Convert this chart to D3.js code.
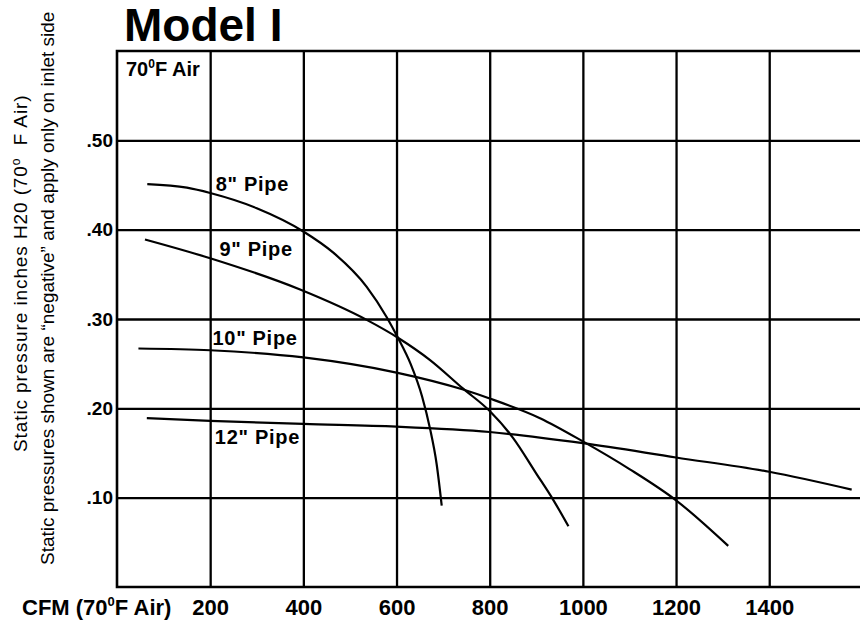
<!DOCTYPE html>
<html>
<head>
<meta charset="utf-8">
<script src="https://cdn.jsdelivr.net/npm/d3@7"></script>
<style>
  html, body { margin: 0; padding: 0; background: #fff; }
  svg { display: block; font-family: "Liberation Sans", Arial, Helvetica, sans-serif; }
</style>
</head>
<body>
<svg id="chart" width="860" height="620"></svg>
<script>
// ---- data ----
const xTicks = [200, 400, 600, 800, 1000, 1200, 1400];
const yTicks = [0.10, 0.20, 0.30, 0.40, 0.50];
const yTickLabels = [".10", ".20", ".30", ".40", ".50"];

const pipeNames = ['8" Pipe', '9" Pipe', '10" Pipe', '12" Pipe'];

const cfm8 = [65, 150, 200, 300, 400, 465, 536, 579, 603, 630, 655, 672, 686, 697];
const sp8  = [0.451, 0.447, 0.441, 0.424, 0.398, 0.374, 0.336, 0.302, 0.279, 0.250, 0.213, 0.177, 0.138, 0.091];

const cfm9 = [60, 200, 393, 536, 603, 672, 743, 800, 850, 900, 937, 969];
const sp9  = [0.389, 0.368, 0.333, 0.299, 0.279, 0.254, 0.222, 0.197, 0.167, 0.127, 0.097, 0.068];

const cfm10 = [46, 200, 400, 600, 743, 800, 908, 1000, 1100, 1200, 1312];
const sp10  = [0.267, 0.265, 0.257, 0.240, 0.221, 0.211, 0.189, 0.163, 0.132, 0.097, 0.046];

const cfm12 = [64, 200, 400, 600, 800, 1000, 1200, 1400, 1577];
const sp12  = [0.189, 0.186, 0.1825, 0.1795, 0.1735, 0.161, 0.145, 0.129, 0.109];

// label anchor points (data coords) for each pipe label
const labelCfm = [212, 220, 205, 210];
const labelSp  = [0.443, 0.371, 0.271, 0.160];

const series = [
  {cfm: cfm8, sp: sp8},
  {cfm: cfm9, sp: sp9},
  {cfm: cfm10, sp: sp10},
  {cfm: cfm12, sp: sp12}
];

// ---- scales ----
const x = d3.scaleLinear().domain([0, 1600]).range([117, 862.4]);
const y = d3.scaleLinear().domain([0, 0.6]).range([587, 51]);

const svg = d3.select("#chart");
const FONT = '"Liberation Sans", Arial, sans-serif';

// title
svg.append("text")
  .attr("x", 124).attr("y", 41)
  .attr("font-size", 46).attr("font-weight", "bold")
  .text("Model I");

// gridlines via axes
const gx = svg.append("g").attr("transform", `translate(0,${y(0)})`)
  .call(d3.axisBottom(x).tickValues(xTicks).tickSize(-(y(0) - y(0.6))).tickPadding(12).tickFormat(d3.format("d")));
gx.select(".domain").remove();
gx.selectAll(".tick line").attr("stroke", "#000").attr("stroke-width", 2.3);
gx.selectAll(".tick text").attr("fill", "#000").attr("font-size", 22).attr("font-weight", "bold")
  .attr("font-family", FONT);

const gy = svg.append("g").attr("transform", `translate(${x(0)},0)`)
  .call(d3.axisLeft(y).tickValues(yTicks).tickSize(-(x(1600) - x(0))).tickPadding(4)
    .tickFormat((d, i) => yTickLabels[i]));
gy.select(".domain").remove();
gy.selectAll(".tick line").attr("stroke", "#000").attr("stroke-width", 2.3);
gy.selectAll(".tick text").attr("fill", "#000").attr("font-size", 19).attr("font-weight", "bold")
  .attr("font-family", FONT);

// frame: left, top, bottom
const frame = d3.path();
frame.moveTo(x(1600), y(0.6));
frame.lineTo(x(0), y(0.6));
frame.lineTo(x(0), y(0));
frame.lineTo(x(1600), y(0));
svg.append("path").attr("d", frame.toString()).attr("fill", "none")
  .attr("stroke", "#000").attr("stroke-width", 2.6);

// curves
const line = d3.line().x(d => x(d[0])).y(d => y(d[1])).curve(d3.curveMonotoneX);
series.forEach(s => {
  const pts = s.cfm.map((c, i) => [c, s.sp[i]]);
  svg.append("path").attr("d", line(pts)).attr("fill", "none")
    .attr("stroke", "#000").attr("stroke-width", 2.2);
});

// pipe labels
pipeNames.forEach((n, i) => {
  svg.append("text")
    .attr("x", x(labelCfm[i])).attr("y", y(labelSp[i]))
    .attr("font-size", 20).attr("font-weight", "bold").attr("letter-spacing", 0.7)
    .text(n);
});

// 70°F Air box label
const t70 = svg.append("text").attr("x", 126).attr("y", 76)
  .attr("font-size", 20).attr("font-weight", "bold");
t70.append("tspan").text("70");
t70.append("tspan").attr("font-size", 12).attr("dy", -8).text("0");
t70.append("tspan").attr("dy", 8).text("F Air");

// x-axis title
const tc = svg.append("text").attr("x", 22).attr("y", 615)
  .attr("font-size", 22).attr("font-weight", "bold");
tc.append("tspan").text("CFM (70");
tc.append("tspan").attr("font-size", 13).attr("dy", -9).text("0");
tc.append("tspan").attr("dy", 9).text("F Air)");

// y-axis titles (rotated)
const ty1 = svg.append("text").attr("transform", "translate(27,452) rotate(-90)")
  .attr("font-size", 19).attr("letter-spacing", 0.9).attr("fill", "#000");
ty1.append("tspan").text("Static pressure inches H20 (70");
ty1.append("tspan").attr("font-size", 12).attr("dy", -7).text("o");
ty1.append("tspan").attr("dy", 7).text("\u00a0\u00a0F Air)");

svg.append("text").attr("transform", "translate(54,565) rotate(-90)")
  .attr("font-size", 19).attr("fill", "#000")
  .text("Static pressures shown are \u201cnegative\u201d and apply only on inlet side");
</script>
</body>
</html>
